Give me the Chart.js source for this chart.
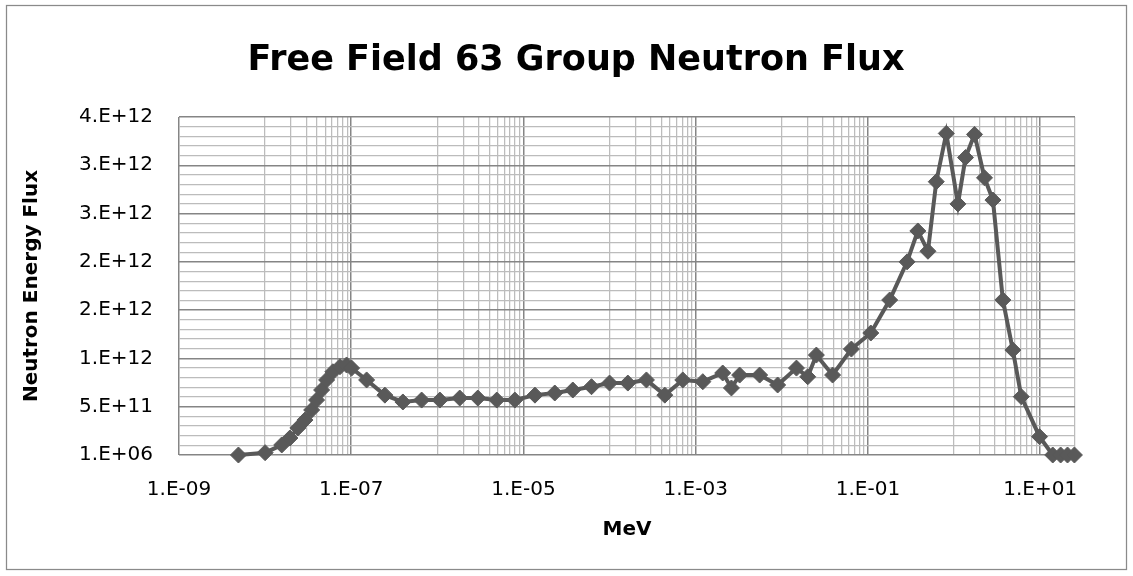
<!DOCTYPE html>
<html>
<head>
<meta charset="utf-8">
<script src="https://cdn.jsdelivr.net/npm/chart.js@4/dist/chart.umd.min.js"></script>
<style>
  html, body { margin: 0; background: #fff; }
  #wrap { position: relative; width: 1133px; height: 576px; }
</style>
</head>
<body>
<div id="wrap"><canvas id="flux" width="1133" height="576"></canvas></div>
<script>
// group energies (MeV) and energy flux per group
var energyMeV = [
  4.9e-9, 1.0e-8, 1.56e-8, 1.94e-8, 2.4e-8, 2.9e-8, 3.47e-8, 3.96e-8, 4.53e-8,
  5.18e-8, 6.12e-8, 7.4e-8, 8.83e-8, 1.01e-7, 1.51e-7, 2.46e-7, 3.98e-7,
  6.57e-7, 1.07e-6, 1.82e-6, 2.95e-6, 4.9e-6, 7.94e-6, 1.36e-5, 2.31e-5,
  3.74e-5, 6.17e-5, 1.0e-4, 1.63e-4, 2.68e-4, 4.38e-4, 7.08e-4, 1.21e-3,
  2.06e-3, 2.6e-3, 3.24e-3, 5.53e-3, 8.95e-3, 1.48e-2, 2.0e-2, 2.52e-2,
  3.89e-2, 6.43e-2, 1.08e-1, 1.79e-1, 2.85e-1, 3.8e-1, 4.98e-1, 6.22e-1,
  8.13e-1, 1.11, 1.36, 1.73, 2.26, 2.83, 3.69, 4.82, 6.04, 9.84, 14, 17.3,
  20.8, 25,
];
var flux = [
  1e6, 2.4e10, 1.04e11, 1.76e11, 2.8e11, 3.62e11, 4.66e11, 5.69e11, 6.73e11,
  7.77e11, 8.62e11, 9.14e11, 9.32e11, 9.0e11, 7.77e11, 6.2e11, 5.49e11,
  5.69e11, 5.69e11, 5.9e11, 5.9e11, 5.69e11, 5.69e11, 6.2e11, 6.42e11,
  6.73e11, 7.07e11, 7.45e11, 7.45e11, 7.77e11, 6.2e11, 7.77e11, 7.59e11,
  8.49e11, 6.94e11, 8.28e11, 8.28e11, 7.25e11, 9.0e11, 8.1e11, 1.035e12,
  8.28e11, 1.097e12, 1.263e12, 1.605e12, 2.0e12, 2.32e12, 2.11e12, 2.83e12,
  3.33e12, 2.6e12, 3.08e12, 3.32e12, 2.87e12, 2.64e12, 1.605e12, 1.087e12,
  6.04e11, 1.9e11, 1e6, 1e6, 1e6, 1e6,
];

var xTickValues = [1e-9, 1e-7, 1e-5, 1e-3, 1e-1, 1e1];
var xTickLabels = ["1.E-09", "1.E-07", "1.E-05", "1.E-03", "1.E-01", "1.E+01"];
var yTickValues = [1e6, 5.00001e11, 1.000001e12, 1.500001e12, 2.000001e12,
  2.500001e12, 3.000001e12, 3.500001e12];
var yTickLabels = ["1.E+06", "5.E+11", "1.E+12", "2.E+12", "2.E+12", "3.E+12",
  "3.E+12", "4.E+12"];

var X_MIN = 1e-9;
var X_MAX = 25.4;
var Y_MINOR = 1e11;

var MAJOR_GRID = "#858585";
var MINOR_GRID = "#bcbcbc";
var SERIES = "#595959";
var FONT = "'DejaVu Sans', sans-serif";

function sameLog(a, b) {
  return Math.abs(Math.log10(a) - Math.log10(b)) < 1e-6;
}

// log axis: labelled line every two decades, 1..9 minors in the second decade
function buildXTicks(scale) {
  var ticks = [];
  xTickValues.forEach(function (v, i) {
    ticks.push({ value: v, major: true });
    if (i < xTickValues.length - 1) {
      for (var k = 1; k <= 9; k++) ticks.push({ value: k * v * 10, major: false });
    }
  });
  ticks.push({ value: X_MAX, major: false });
  scale.ticks = ticks;
}

function buildYTicks(scale) {
  var ticks = [];
  var lo = yTickValues[0];
  var hi = yTickValues[yTickValues.length - 1];
  var n = Math.round((hi - lo) / Y_MINOR);
  for (var k = 0; k <= n; k++) {
    ticks.push({ value: lo + k * Y_MINOR, major: k % 5 === 0 });
  }
  scale.ticks = ticks;
}

function gridColor(ctx) {
  return ctx.tick && ctx.tick.major ? MAJOR_GRID : MINOR_GRID;
}

function gridWidth(ctx) {
  return ctx.tick && ctx.tick.major ? 1.5 : 1.25;
}

var frameAndTitle = {
  id: "frameAndTitle",
  beforeDraw: function (chart) {
    var ctx = chart.ctx;
    ctx.save();
    ctx.fillStyle = "#fff";
    ctx.fillRect(0, 0, chart.width, chart.height);
    ctx.strokeStyle = "#8a8a8a";
    ctx.lineWidth = 1.25;
    ctx.strokeRect(6.5, 5.5, 1120, 564);
    ctx.restore();
  },
  afterDraw: function (chart) {
    var ctx = chart.ctx;
    ctx.save();
    ctx.fillStyle = "#000";
    ctx.font = "bold 35px " + FONT;
    ctx.textAlign = "center";
    ctx.textBaseline = "alphabetic";
    ctx.fillText("Free Field 63 Group Neutron Flux", 576, 70);
    ctx.restore();
  },
};

var points = energyMeV.map(function (e, i) {
  return { x: e, y: flux[i] };
});

new Chart(document.getElementById("flux"), {
  type: "scatter",
  data: {
    datasets: [
      {
        data: points,
        showLine: true,
        borderColor: SERIES,
        backgroundColor: SERIES,
        borderWidth: 4,
        pointStyle: "rectRot",
        pointRadius: 8,
        pointBorderWidth: 1,
        pointBorderColor: SERIES,
        pointBackgroundColor: SERIES,
        tension: 0,
        clip: false,
      },
    ],
  },
  options: {
    responsive: false,
    animation: false,
    layout: { padding: { top: 117, left: 8, right: 58, bottom: 6 } },
    plugins: {
      legend: { display: false },
      tooltip: { enabled: false },
    },
    scales: {
      x: {
        type: "logarithmic",
        min: X_MIN,
        max: X_MAX,
        afterBuildTicks: buildXTicks,
        afterFit: function (scale) { scale.height = 115; },
        border: { display: false },
        grid: { color: gridColor, lineWidth: gridWidth, drawTicks: false },
        ticks: {
          autoSkip: false,
          maxRotation: 0,
          padding: 23,
          color: "#000",
          font: { family: FONT, size: 20 },
          callback: function (value) {
            for (var i = 0; i < xTickValues.length; i++) {
              if (sameLog(value, xTickValues[i])) return xTickLabels[i];
            }
            return "";
          },
        },
        title: {
          display: true,
          text: "MeV",
          color: "#000",
          font: { family: FONT, size: 20, weight: "bold" },
          padding: { top: 0, bottom: 28 },
        },
      },
      y: {
        min: yTickValues[0],
        max: yTickValues[yTickValues.length - 1],
        afterBuildTicks: buildYTicks,
        afterFit: function (scale) { scale.width = 171; },
        border: { display: false },
        grid: { color: gridColor, lineWidth: gridWidth, drawTicks: false },
        ticks: {
          autoSkip: false,
          padding: 26,
          color: "#000",
          font: { family: FONT, size: 20 },
          callback: function (value) {
            for (var i = 0; i < yTickValues.length; i++) {
              if (Math.abs(value - yTickValues[i]) < 1e3) return yTickLabels[i];
            }
            return "";
          },
        },
        title: {
          display: true,
          text: "Neutron Energy Flux",
          color: "#000",
          font: { family: FONT, size: 20, weight: "bold" },
          padding: { top: 12, bottom: 0 },
        },
      },
    },
  },
  plugins: [frameAndTitle],
});
</script>
</body>
</html>
